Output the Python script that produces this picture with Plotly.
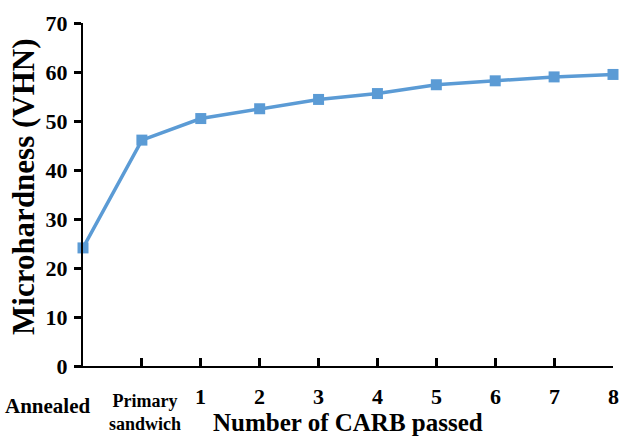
import plotly.graph_objects as go

categories = ["Annealed", "Primary sandwich", "1", "2", "3", "4", "5", "6", "7", "8"]
hardness = [24.1, 46.1, 50.5, 52.5, 54.4, 55.6, 57.4, 58.2, 59.0, 59.5]
y_ticks = [0, 10, 20, 30, 40, 50, 60, 70]
x_title = "Number of CARB passed"
y_title = "Microhardness (VHN)"

FONT = "Liberation Serif"
BLUE = "#5B9BD5"

fig = go.Figure()
fig.add_trace(go.Scatter(
    x=categories, y=hardness, mode="lines+markers",
    line=dict(color=BLUE, width=3.5),
    marker=dict(symbol="square", size=11, color=BLUE),
    cliponaxis=False, showlegend=False, hoverinfo="skip",
))

annotations = []
for i, c in enumerate(categories):
    if c == "Annealed":
        annotations.append(dict(x=i, xref="x", y=0, yref="paper", text="<b>Annealed</b>",
                                showarrow=False, xanchor="right", yanchor="middle",
                                xshift=10, yshift=-40, font=dict(family=FONT, size=21, color="black")))
    elif c == "Primary sandwich":
        annotations.append(dict(x=i, xref="x", y=0, yref="paper", text="<b>Primary<br>sandwich</b>",
                                showarrow=False, xanchor="center", yanchor="middle",
                                xshift=3, yshift=-46, font=dict(family=FONT, size=18, color="black")))
    else:
        annotations.append(dict(x=i, xref="x", y=0, yref="paper", text="<b>%s</b>" % c,
                                showarrow=False, xanchor="center", yanchor="middle",
                                yshift=-30, font=dict(family=FONT, size=22, color="black")))

annotations.append(dict(x=0.5, xref="paper", y=0, yref="paper", text="<b>%s</b>" % x_title,
                        showarrow=False, xanchor="center", yanchor="middle", yshift=-56,
                        font=dict(family=FONT, size=25, color="black")))
annotations.append(dict(x=0, xref="paper", y=0.522, yref="paper", text="<b>%s</b>" % y_title,
                        showarrow=False, xanchor="center", yanchor="middle", xshift=-59,
                        textangle=-90, font=dict(family=FONT, size=31, color="black")))

fig.update_layout(
    template="none",
    width=620, height=436,
    margin=dict(l=83, r=7, t=23, b=70, autoexpand=False),
    plot_bgcolor="white", paper_bgcolor="white",
    annotations=annotations,
    xaxis=dict(
        type="category", range=[0, 9], showgrid=False, zeroline=False,
        showline=True, linecolor="black", linewidth=2,
        ticks="inside", ticklen=8, tickwidth=2.5, tickcolor="black",
        showticklabels=False,
    ),
    yaxis=dict(
        range=[0, 70], tickvals=y_ticks, showgrid=False, zeroline=False,
        showline=True, linecolor="black", linewidth=2,
        ticks="outside", ticklen=7, tickwidth=2.5, tickcolor="black",
        tickfont=dict(family=FONT, size=22, color="black", weight="bold"),
        ticklabelstandoff=2,
    ),
)

fig.write_html("out.html", config={"displayModeBar": False},
               post_script="document.body.style.margin='0';")
